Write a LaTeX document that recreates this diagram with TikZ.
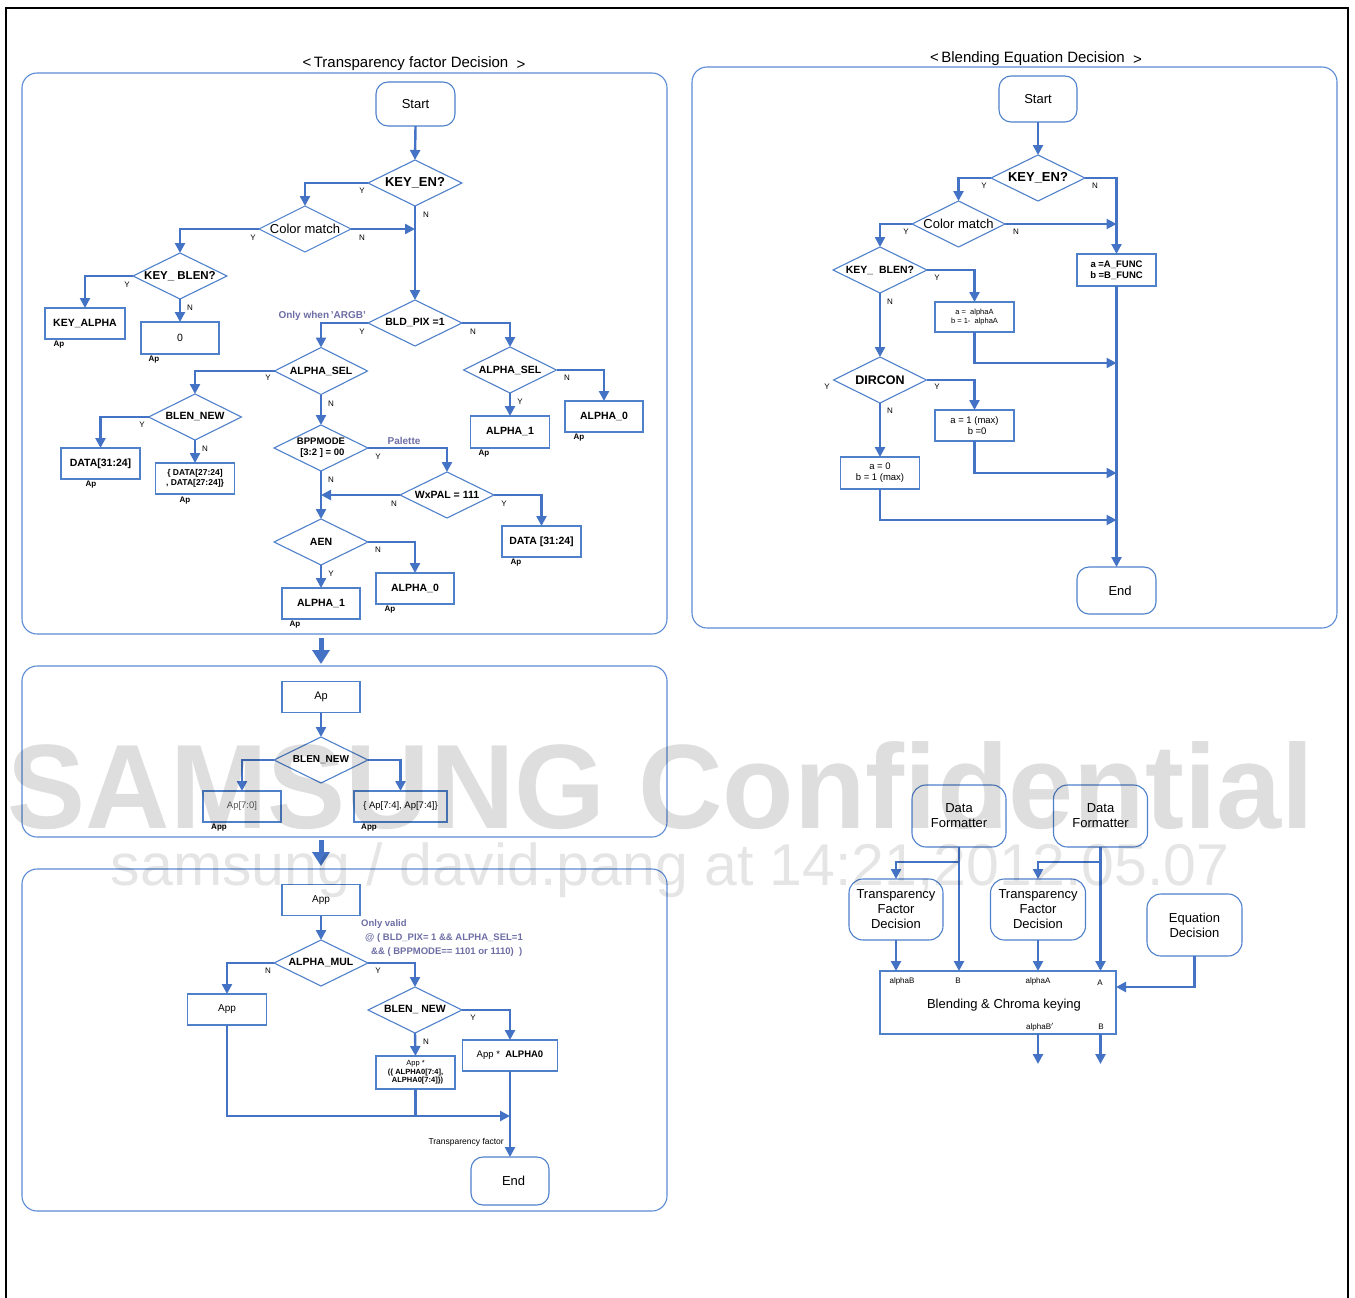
\documentclass[tikz,border=0pt]{standalone}
\usepackage{fontspec}
\setmainfont{Liberation Sans}
\usetikzlibrary{shapes.geometric,arrows.meta}
\definecolor{ablue}{HTML}{4472C4}
\definecolor{lblue}{HTML}{4F81CB}
\definecolor{pblue}{HTML}{5B8BD5}
\definecolor{purp}{HTML}{6E6EA6}
\newcommand\fsz[2]{\fontsize{#1}{#2}\selectfont}
\newcommand\dt[1]{\makebox[0pt]{#1}}
\newcommand\tl[1]{\begin{tabular}{@{}c@{}}#1\end{tabular}}
\begin{document}
\begin{tikzpicture}[x=1pt,y=-1pt,
  ln/.style={draw=lblue, line width=1.1pt},
  dia/.style={shape=diamond, ln, inner sep=0pt, outer sep=0pt, aspect=2, minimum width=94pt, minimum height=46pt},
  box/.style={shape=rectangle, ln, inner sep=0pt, outer sep=0pt, align=center},
  term/.style={box, rounded corners=12pt},
  arr/.style={draw=ablue, line width=2.4pt, -{Triangle[length=10pt,width=10pt]}},
  pipe/.style={draw=ablue, line width=2.4pt},
  big/.style={draw=ablue, line width=5pt, -{Triangle[length=14pt,width=17pt]}},
  lab/.style={font=\fsz{8}{9}, inner sep=0pt},
  aplab/.style={font=\fsz{8}{9}\bfseries, inner sep=0pt},
  panel/.style={draw=pblue, line width=1.1pt, rounded corners=15pt},
  ttl/.style={font=\fsz{15}{17}, inner sep=0pt},
  bb/.style={font=\fsz{10.5}{12}\bfseries},
]
\useasboundingbox (0,0) rectangle (1355,1298);
\fill[white] (0,0) rectangle (1355,1298);
\draw[line width=1.5pt] (6,1300) -- (6,8) -- (1348,8) -- (1348,1300);

% ---------------- panels
\draw[panel] (22,73) rectangle (667,634);
\draw[panel] (22,666) rectangle (667,837);
\draw[panel] (22,869) rectangle (667,1211);
\draw[panel] (692,67) rectangle (1337,628);
\node[ttl] (t1) at (414,64) {<\,Transparency factor Decision\ \ \raisebox{-2pt}{>}};
\node[ttl] (t2) at (1036,59) {<\,Blending Equation Decision\ \ \raisebox{-2pt}{>}};

% ---------------- panel 1
\node[term, minimum width=79pt, minimum height=44pt, font=\fsz{13}{15}] (s1) at (415.5,104) {Start};
\node[dia, font=\fsz{13}{15}\bfseries] (ken1) at (415,183) {\dt{KEY\_EN?}};
\node[dia, minimum width=92pt, font=\fsz{13}{15}] (cm1) at (305,229) {\dt{Color match}};
\node[dia, font=\fsz{11.5}{13}\bfseries] (kb1) at (180,276) {\dt{KEY\_ BLEN?}};
\node[box, bb, minimum width=80pt, minimum height=31pt] (keyalpha) at (85,323.5) {KEY\_ALPHA};
\node[box, font=\fsz{10.5}{12}, minimum width=78pt, minimum height=32pt] (zero) at (180,338) {0};
\node[dia, bb] (bld) at (415,323) {\dt{BLD\_PIX =1}};
\node[dia, bb, minimum width=93pt, minimum height=47pt] (asel1) at (321,371) {\dt{ALPHA\_SEL}};
\node[dia, bb, minimum width=93pt] (asel2) at (510,370) {\dt{ALPHA\_SEL}};
\node[dia, bb, minimum width=93pt] (blen1) at (195,417) {\dt{BLEN\_NEW}};
\node[box, bb, minimum width=79pt, minimum height=31pt] (data1) at (100.5,463.5) {DATA[31:24]};
\node[box, font=\fsz{8.5}{10}\bfseries, minimum width=79pt, minimum height=31pt] (dataN) at (195,478.5) {\{ DATA[27:24]\\, DATA[27:24]\}};
\node[dia, font=\fsz{9.5}{10.5}\bfseries] (bpp) at (321,448) {\dt{\tl{BPPMODE\\\ [3:2 ] = 00}}};
\node[dia, bb] (wxpal) at (447,495) {\dt{WxPAL = 111}};
\node[box, bb, minimum width=79pt, minimum height=31pt] (data2) at (541.5,541.5) {DATA [31:24]};
\node[dia, bb] (aen) at (321,542) {\dt{AEN}};
\node[box, bb, minimum width=78pt, minimum height=31pt] (alpha1a) at (321,603.5) {ALPHA\_1};
\node[box, bb, minimum width=78pt, minimum height=31pt] (alpha0a) at (415,588.5) {ALPHA\_0};
\node[box, bb, minimum width=79pt, minimum height=32pt] (alpha1b) at (510,432) {ALPHA\_1};
\node[box, bb, minimum width=78pt, minimum height=31pt] (alpha0b) at (604,416.5) {ALPHA\_0};

\draw[arr] (s1.south) -- (ken1.north);
\draw[arr] (ken1.west) -| (cm1.north);
\draw[arr] (ken1.south) -- (bld.north);
\draw[arr] (cm1.west) -| (kb1.north);
\draw[arr] (cm1.east) -- (cm1.east -| ken1.south);
\draw[arr] (kb1.west) -| (keyalpha.north);
\draw[arr] (kb1.south) -- (zero.north);
\draw[arr] (bld.west) -| (asel1.north);
\draw[arr] (bld.east) -| (asel2.north);
\draw[arr] (asel1.west) -| (blen1.north);
\draw[arr] (asel1.south) -- (bpp.north);
\draw[arr] (blen1.west) -| (data1.north);
\draw[arr] (blen1.south) -- (dataN.north);
\draw[arr] (bpp.east) -| (wxpal.north);
\draw[arr] (bpp.south) -- (aen.north);
\draw[arr] (wxpal.west) -- (wxpal.west -| bpp.south);
\draw[arr] (wxpal.east) -| (data2.north);
\draw[arr] (aen.south) -- (alpha1a.north);
\draw[arr] (aen.east) -| (alpha0a.north);
\draw[arr] (asel2.south) -- (alpha1b.north);
\draw[arr] (asel2.east) -| (alpha0b.north);

\node[lab] (l1) at (362,191) {Y};
\node[lab] (l2) at (426,215) {N};
\node[lab] (l3) at (253,238) {Y};
\node[lab] (l4) at (362,238) {N};
\node[lab] (l5) at (127,285) {Y};
\node[lab] (l6) at (190,308) {N};
\node[lab] (l7) at (362,332) {Y};
\node[lab] (l8) at (473,332) {N};
\node[lab] (l9) at (268,378) {Y};
\node[lab] (l10) at (331,404) {N};
\node[lab] (l11) at (142,425) {Y};
\node[lab] (l12) at (205,449) {N};
\node[lab] (l13) at (378,457) {Y};
\node[lab] (l14) at (331,480) {N};
\node[lab] (l15) at (394,504) {N};
\node[lab] (l16) at (504,504) {Y};
\node[lab] (l17) at (378,550) {N};
\node[lab] (l18) at (331,574) {Y};
\node[lab] (l19) at (520,402) {Y};
\node[lab] (l20) at (567,378) {N};

\node[aplab] (a1) at (59,345) {Ap};
\node[aplab] (a2) at (154,360) {Ap};
\node[aplab] (a3) at (91,485) {Ap};
\node[aplab] (a4) at (185,501) {Ap};
\node[aplab] (a5) at (516,563) {Ap};
\node[aplab] (a6) at (295,625) {Ap};
\node[aplab] (a7) at (390,610) {Ap};
\node[aplab] (a8) at (484,454) {Ap};
\node[aplab] (a9) at (579,438) {Ap};

\node[font=\fsz{10}{12}\bfseries, text=purp, anchor=east, inner sep=0pt] (onlyw) at (366,316) {Only when\,'ARGB'};
\node[font=\fsz{10}{12}\bfseries, text=purp, inner sep=0pt] (pal) at (404,441) {Palette};

% ---------------- panel 2
\coordinate (b1s) at (321,638);
\coordinate (b1e) at (321,664);
\draw[big] (b1s) -- (b1e);
\node[box, font=\fsz{11}{13}, minimum width=78pt, minimum height=31pt] (ap) at (321,697) {Ap};
\node[dia, font=\fsz{10}{12}\bfseries] (blen2) at (321,760) {\dt{BLEN\_NEW}};
\node[box, font=\fsz{9.5}{11}, text=black!65, minimum width=78pt, minimum height=31pt] (ap70) at (242,806.5) {Ap[7:0]};
\node[box, font=\fsz{9.5}{11}, minimum width=93pt, minimum height=31pt] (ap74) at (400.5,806.5) {\{ Ap[7:4], Ap[7:4]\}};
\draw[arr] (ap.south) -- (blen2.north);
\draw[arr] (blen2.west) -| (ap70.north);
\draw[arr] (blen2.east) -| (ap74.north);
\node[aplab] (a10) at (219,828) {App};
\node[aplab] (a11) at (369,828) {App};

% ---------------- panel 3
\coordinate (b2s) at (321,840);
\coordinate (b2e) at (321,866);
\draw[big] (b2s) -- (b2e);
\node[box, font=\fsz{10}{12}, minimum width=78pt, minimum height=31pt] (app) at (321,900) {App};
\node[dia, bb] (amul) at (321,963) {\dt{ALPHA\_MUL}};
\node[box, font=\fsz{10}{12}, minimum width=79pt, minimum height=31pt] (appL) at (227,1009.5) {App};
\node[dia, bb] (blen3) at (415,1010) {\dt{BLEN\_ NEW}};
\node[box, font=\fsz{7.5}{8.5}, minimum width=79pt, minimum height=33pt] (appmul) at (415.5,1072.5) {App *\\\textbf{(\{ ALPHA0[7:4],}\\\textbf{\ \ ALPHA0[7:4]\})}};
\node[box, font=\fsz{9.5}{11}, minimum width=95pt, minimum height=31pt] (appa0) at (510,1055.5) {App *\ \ \textbf{ALPHA0}};
\node[term, font=\fsz{13}{15}, minimum width=78pt, minimum height=48pt] (end1) at (510,1181) {\ \ End};
\coordinate (j1) at (510,1116);
\draw[arr] (app.south) -- (amul.north);
\draw[arr] (amul.west) -| (appL.north);
\draw[arr] (amul.east) -| (blen3.north);
\draw[arr] (blen3.east) -| (appa0.north);
\draw[arr] (blen3.south) -- (appmul.north);
\draw[arr] (appL.south) |- (j1);
\draw[pipe] (appmul.south) -- (appmul.south |- j1);
\draw[arr] (appa0.south) -- (end1.north);
\node[lab] (l21) at (268,971) {N};
\node[lab] (l22) at (378,971) {Y};
\node[lab] (l23) at (473,1018) {Y};
\node[lab] (l24) at (426,1042) {N};
\node[font=\fsz{8.5}{10}, anchor=east, inner sep=0pt] (tf) at (504,1142) {Transparency factor};
\node[font=\fsz{9.5}{14}\bfseries, text=purp, anchor=north west, align=left, inner sep=0pt] (ov) at (361,919) {Only valid\\\hspace{4pt}@ ( BLD\_PIX= 1 \&\& ALPHA\_SEL=1\\\hspace{10pt}\&\& ( BPPMODE== 1101 or 1110)\ \ )};

% ---------------- panel 4
\node[term, font=\fsz{13}{15}, minimum width=78pt, minimum height=46pt] (s2) at (1038,99) {Start};
\node[dia, font=\fsz{13}{15}\bfseries] (ken2) at (1038,178) {\dt{KEY\_EN?}};
\node[dia, minimum width=93pt, font=\fsz{13}{15}] (cm2) at (958.5,224) {\dt{Color match}};
\node[dia, font=\fsz{10.5}{12}\bfseries] (kb2) at (880,270) {\dt{KEY\_\ \ BLEN?}};
\node[box, font=\fsz{9.5}{11}\bfseries, minimum width=79pt, minimum height=32pt] (afunc) at (1116.5,270) {a =A\_FUNC\\b =B\_FUNC};
\node[box, font=\fsz{7.5}{8.5}, minimum width=79pt, minimum height=30pt] (aab) at (974.5,317) {a =\ \ alphaA\\b = 1-\ \ alphaA};
\node[dia, minimum width=93pt, font=\fsz{12.5}{14}\bfseries] (dircon) at (880,380) {\dt{DIRCON}};
\node[box, font=\fsz{9.5}{11}, minimum width=79pt, minimum height=31pt] (a1b0) at (974.5,425.5) {a = 1 (max)\\\ \ b =0};
\node[box, font=\fsz{9.5}{11}, minimum width=79pt, minimum height=32pt] (a0b1) at (880,473) {a = 0\\b = 1 (max)};
\node[term, font=\fsz{13}{15}, minimum width=79pt, minimum height=47pt] (end2) at (1116.5,590.5) {\ \ End};
\coordinate (m1) at (1116.5,363);
\coordinate (m2) at (1116.5,473);
\coordinate (m3) at (1116.5,520);
\draw[arr] (s2.south) -- (ken2.north);
\draw[arr] (ken2.west) -| (cm2.north);
\draw[arr] (ken2.east) -| (afunc.north);
\draw[arr] (cm2.west) -| (kb2.north);
\draw[arr] (cm2.east) -- (cm2.east -| afunc.north);
\draw[arr] (kb2.east) -| (aab.north);
\draw[arr] (kb2.south) -- (dircon.north);
\draw[arr] (aab.south) |- (m1);
\draw[arr] (afunc.south) -- (end2.north);
\draw[arr] (dircon.east) -| (a1b0.north);
\draw[arr] (dircon.south) -- (a0b1.north);
\draw[arr] (a1b0.south) |- (m2);
\draw[arr] (a0b1.south) |- (m3);
\node[lab] (l25) at (984,186) {Y};
\node[lab] (l26) at (1095,186) {N};
\node[lab] (l27) at (906,232) {Y};
\node[lab] (l28) at (1016,232) {N};
\node[lab] (l29) at (937,278) {Y};
\node[lab] (l30) at (890,302) {N};
\node[lab] (l31) at (827,387) {Y};
\node[lab] (l32) at (937,387) {Y};
\node[lab] (l33) at (890,411) {N};

% ---------------- system diagram
\node[box, rounded corners=14pt, font=\fsz{13}{15}, minimum width=94pt, minimum height=62pt] (df1) at (959,816) {Data\\Formatter};
\node[box, rounded corners=14pt, font=\fsz{13}{15}, minimum width=94pt, minimum height=62pt] (df2) at (1100.5,816) {Data\\Formatter};
\node[box, rounded corners=14pt, font=\fsz{13}{15}, minimum width=94pt, minimum height=61pt] (tfd1) at (896,909.5) {Transparency\\Factor\\Decision};
\node[box, rounded corners=14pt, font=\fsz{13}{15}, minimum width=95pt, minimum height=61pt] (tfd2) at (1038,909.5) {Transparency\\Factor\\Decision};
\node[box, rounded corners=14pt, font=\fsz{13}{15}, minimum width=95pt, minimum height=62pt] (eqd) at (1194.5,925) {Equation\\Decision};
\node[box, minimum width=236pt, minimum height=63pt] (blend) at (998,1002.5) {};
\node[font=\fsz{13}{15}, inner sep=0pt] (blt) at (1004,1005) {Blending \& Chroma keying};
\node[lab] (p1) at (902,981) {alphaB};
\node[lab] (p2) at (958,981) {B};
\node[lab] (p3) at (1038,981) {alphaA};
\node[lab] (p4) at (1100,983) {A};
\node[lab] (p5) at (1040,1027) {alphaB$'$};
\node[lab] (p6) at (1101,1027) {B};
\coordinate (br1) at (959,862);
\coordinate (br2) at (1100.5,862);
\coordinate (eqin) at (1116,987);
\coordinate (o1) at (1038,1064);
\coordinate (o2) at (1100.5,1064);
\draw[arr] (df1.south) -- (df1.south |- blend.north);
\draw[arr] (br1) -| (tfd1.north);
\draw[arr] (tfd1.south) -- (tfd1.south |- blend.north);
\draw[arr] (df2.south) -- (df2.south |- blend.north);
\draw[arr] (br2) -| (tfd2.north);
\draw[arr] (tfd2.south) -- (tfd2.south |- blend.north);
\draw[arr] (eqd.south) |- (eqin);
\draw[arr] (o1 |- blend.south) -- (o1);
\draw[arr] (o2 |- blend.south) -- (o2);

% ---------------- watermark
\node[font=\fsz{120}{120}\bfseries, text=black, text opacity=0.13, anchor=base, inner sep=0pt] (wm1) at (661,828) {\scalebox{0.975}[1]{SAMSUNG Confidential}};
\node[font=\fsz{59}{60}, text=black, text opacity=0.10, anchor=base, inner sep=0pt] (wm2) at (670,885) {samsung / david.pang at 14:21,2012.05.07};
\end{tikzpicture}
\end{document}
